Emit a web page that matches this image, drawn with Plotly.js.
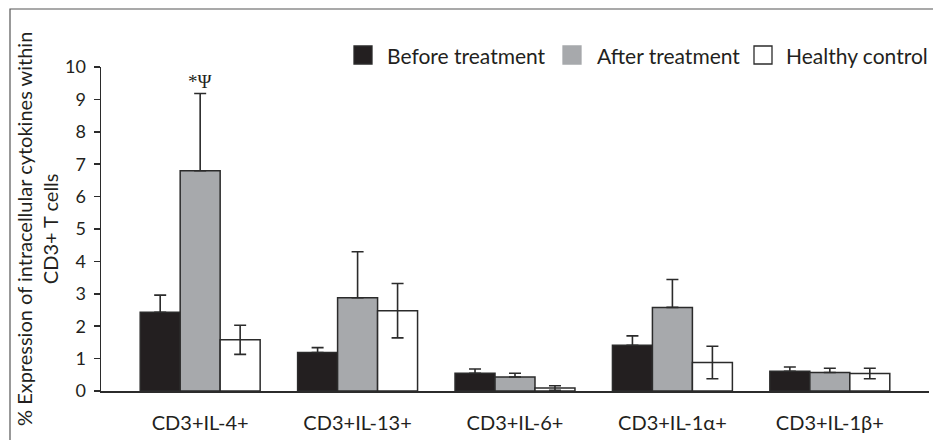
<!DOCTYPE html>
<html>
<head>
<meta charset="utf-8">
<script src="https://cdn.plot.ly/plotly-3.0.1.min.js"></script>
<style>
html,body{margin:0;padding:0;background:#fff;}
#chart{width:933px;height:440px;}
</style>
</head>
<body>
<div id="chart"></div>
<script>
// ---- data ----
var categories = ['CD3+IL-4+', 'CD3+IL-13+', 'CD3+IL-6+', 'CD3+IL-1\u03b1+', 'CD3+IL-1\u03b2+'];
var seriesNames = ['Before treatment', 'After treatment', 'Healthy control'];
var beforeVals = [2.43, 1.19, 0.55, 1.41, 0.61];
var beforeErr  = [0.53, 0.15, 0.13, 0.29, 0.13];
var afterVals  = [6.80, 2.88, 0.43, 2.58, 0.57];
var afterErr   = [2.38, 1.42, 0.12, 0.86, 0.13];
var healthyVals = [1.58, 2.48, 0.09, 0.88, 0.54];
var healthyErr  = [0.45, 0.84, 0.07, 0.50, 0.16];
var yTicks = [0, 1, 2, 3, 4, 5, 6, 7, 8, 9, 10];
var sigLabel = '*\u03a8';
var yTitle = '% Expression of intracellular cytokines within<br>CD3+ T cells';

var FONT = 'Lato, "Noto Sans", sans-serif';
var DARK = '#2b2b2b';
var colors = ['#231f20', '#a7a9ac', '#ffffff'];

function errUp(arr) {
  return {type: 'data', symmetric: false, array: arr, arrayminus: arr.map(function(){return 0;}),
          color: DARK, thickness: 1.6, width: 6};
}
function errSym(arr) {
  return {type: 'data', symmetric: true, array: arr, color: DARK, thickness: 1.6, width: 6};
}

var traces = [
  {type: 'bar', x: categories, y: beforeVals, name: seriesNames[0], error_y: errUp(beforeErr),
   marker: {color: colors[0], line: {color: DARK, width: 1.5}}},
  {type: 'bar', x: categories, y: afterVals, name: seriesNames[1], error_y: errUp(afterErr),
   marker: {color: colors[1], line: {color: DARK, width: 1.5}}},
  {type: 'bar', x: categories, y: healthyVals, name: seriesNames[2], error_y: errSym(healthyErr),
   marker: {color: colors[2], line: {color: DARK, width: 1.5}}}
];

// layout helpers: pixel -> paper
var L = 101, R = 4, T = 67, B = 49, W = 933, H = 440;
var pw = W - L - R, ph = H - T - B;
function px(x) { return (x - L) / pw; }
function py(y) { return (H - B - y) / ph; }

var shapes = [];
var annotations = [];

// frame (top and left edges)
shapes.push({type: 'path', xref: 'paper', yref: 'paper',
  path: 'M ' + px(10) + ' ' + py(445) + ' L ' + px(10) + ' ' + py(9) + ' L ' + px(940) + ' ' + py(9),
  line: {color: '#555555', width: 1.2}});

// custom legend
var legSq = [354, 563, 754];
var legTx = [385, 595, 784];
for (var i = 0; i < seriesNames.length; i++) {
  shapes.push({type: 'rect', xref: 'paper', yref: 'paper',
    x0: px(legSq[i]), x1: px(legSq[i] + 18), y0: py(64), y1: py(46),
    fillcolor: colors[i], line: {color: i === 1 ? colors[1] : DARK, width: 1.3}});
  annotations.push({xref: 'paper', yref: 'paper', x: px(legTx[i]), y: py(55),
    xanchor: 'left', yanchor: 'middle', showarrow: false, text: seriesNames[i],
    font: {family: FONT, size: 21, color: '#231f20'}});
}

// y-axis title (two lines, rotated)
annotations.push({xref: 'paper', yref: 'paper', x: px(37), y: py(229),
  xanchor: 'center', yanchor: 'middle', textangle: -90, showarrow: false, text: yTitle,
  font: {family: FONT, size: 20, color: '#231f20'}});

// significance mark
annotations.push({x: categories[0], y: afterVals[0] + afterErr[0], xref: 'x', yref: 'y',
  xanchor: 'center', yanchor: 'bottom', yshift: 0, showarrow: false, text: sigLabel,
  font: {family: '"Liberation Serif", "DejaVu Serif", serif', size: 19, color: '#231f20'}});

var layout = {
  width: W, height: H,
  margin: {l: L, r: R, t: T, b: B, pad: 0},
  paper_bgcolor: '#fff', plot_bgcolor: '#fff',
  barmode: 'group', bargap: 0.238, bargroupgap: 0,
  showlegend: false,
  font: {family: FONT, color: '#231f20'},
  xaxis: {
    type: 'category', range: [-0.63, 4.63], showgrid: false, zeroline: false,
    showline: true, linecolor: DARK, linewidth: 1.5, ticks: '',
    tickfont: {family: FONT, size: 20, color: '#231f20'}, ticklabelstandoff: 13
  },
  yaxis: {
    range: [0, 10], tickvals: yTicks, ticktext: yTicks.map(String), showgrid: false, zeroline: false,
    showline: true, linecolor: DARK, linewidth: 1.5, ticks: 'outside', ticklen: 6, tickwidth: 1.5,
    tickcolor: DARK, tickfont: {family: FONT, size: 18, color: '#231f20'}, ticklabelstandoff: 4
  },
  shapes: shapes,
  annotations: annotations
};

Plotly.newPlot('chart', traces, layout, {displayModeBar: false, staticPlot: true});
</script>
</body>
</html>
